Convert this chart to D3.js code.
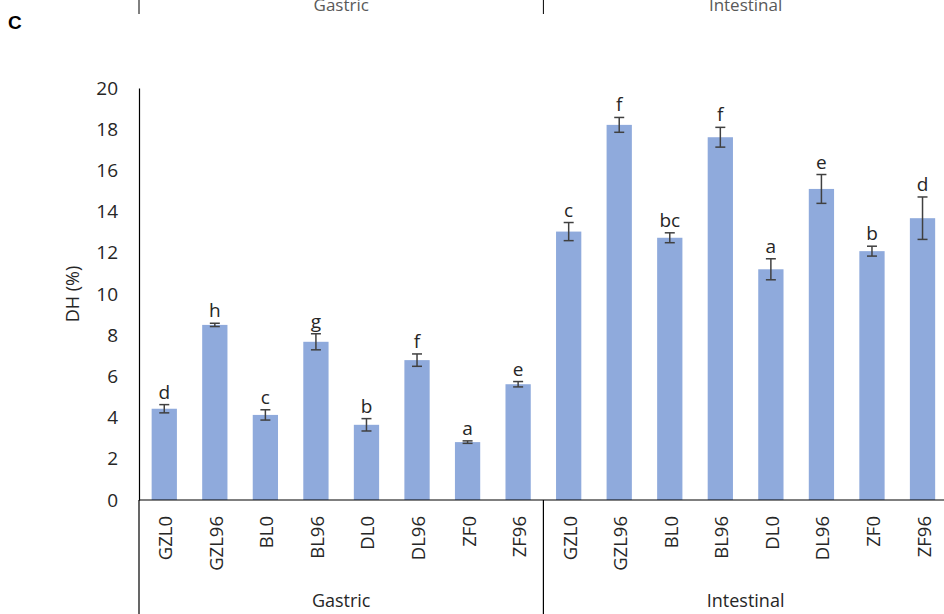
<!DOCTYPE html>
<html lang="en">
<head>
<meta charset="UTF-8">
<title>DH (%)</title>
<script src="https://d3js.org/d3.v7.min.js"></script>
<style>
  body { margin: 0; background: #fff; }
  svg { display: block; }
  text { font-family: "Open Sans", "Liberation Sans", sans-serif; fill: #262626; }
</style>
</head>
<body>
<div id="grafico"></div>
<script>
// data
const groups = ["Gastric", "Intestinal"];
const samples = ["GZL0", "GZL96", "BL0", "BL96", "DL0", "DL96", "ZF0", "ZF96"];
const gastricMean = [4.43, 8.5, 4.13, 7.68, 3.65, 6.79, 2.81, 5.62];
const gastricSd = [0.2, 0.08, 0.25, 0.39, 0.3, 0.3, 0.06, 0.13];
const gastricLetters = ["d", "h", "c", "g", "b", "f", "a", "e"];
const intestinalMean = [13.03, 18.21, 12.73, 17.61, 11.2, 15.1, 12.08, 13.68];
const intestinalSd = [0.44, 0.36, 0.24, 0.48, 0.51, 0.7, 0.24, 1.03];
const intestinalLetters = ["c", "f", "bc", "f", "a", "e", "b", "d"];
const yTicks = [0, 2, 4, 6, 8, 10, 12, 14, 16, 18, 20];

const rows = [];
samples.forEach((s, i) => rows.push({ group: "Gastric", name: s, mean: gastricMean[i], sd: gastricSd[i], letter: gastricLetters[i] }));
samples.forEach((s, i) => rows.push({ group: "Intestinal", name: s, mean: intestinalMean[i], sd: intestinalSd[i], letter: intestinalLetters[i] }));
rows.forEach(d => d.key = d.group + "-" + d.name);

const W = 944, H = 614;
const x0 = 139, step = 50.55;
const svg = d3.select("#grafico").append("svg").attr("width", W).attr("height", H);

const x = d3.scaleBand()
  .domain(rows.map(d => d.key))
  .range([x0, x0 + step * rows.length])
  .paddingInner(0.5)
  .paddingOuter(0.25);

const y = d3.scaleLinear().domain([0, 20]).range([500, 88]);

// panel letter and the bottom of the panel above (cut off, as in the figure)
svg.append("text").attr("x", 8).attr("y", 29)
  .style("font-family", "Liberation Sans, Arial, sans-serif")
  .style("font-weight", "bold").style("font-size", "19px").style("fill", "#000")
  .text("C");

groups.forEach((g, i) => {
  const xs = x0 + i * step * samples.length;
  svg.append("line").attr("x1", xs).attr("x2", xs).attr("y1", 0).attr("y2", 14)
    .attr("stroke", "#000").attr("stroke-width", 1);
  svg.append("text").attr("x", xs + step * samples.length / 2).attr("y", 11)
    .attr("text-anchor", "middle").style("font-size", "17px").style("fill", "#595959")
    .text(g);
});

// y axis
const yAxis = svg.append("g").attr("transform", `translate(${x0},0)`)
  .call(d3.axisLeft(y).tickValues(yTicks).tickSize(0).tickPadding(21));
yAxis.select(".domain").attr("stroke", "#000").attr("stroke-width", 1.2);
yAxis.selectAll("text").style("font-size", "19px").style("font-family", "Open Sans, sans-serif").attr("fill", "#262626");

svg.append("text")
  .attr("transform", `translate(79,${y(10)}) rotate(-90)`)
  .attr("text-anchor", "middle")
  .style("font-size", "18px")
  .text("DH (%)");

// bars
svg.selectAll("rect.bar").data(rows).enter().append("rect")
  .attr("class", "bar")
  .attr("x", d => x(d.key))
  .attr("y", d => y(d.mean))
  .attr("width", x.bandwidth())
  .attr("height", d => y(0) - y(d.mean))
  .attr("fill", "#8FAADC");

// error bars
const eb = svg.selectAll("g.err").data(rows).enter().append("g").attr("class", "err")
  .attr("stroke", "#404040").attr("stroke-width", 1.5);
const cx = d => x(d.key) + x.bandwidth() / 2;
eb.append("line").attr("x1", cx).attr("x2", cx)
  .attr("y1", d => y(d.mean + d.sd)).attr("y2", d => y(d.mean - d.sd));
eb.append("line").attr("x1", d => cx(d) - 5).attr("x2", d => cx(d) + 5)
  .attr("y1", d => y(d.mean + d.sd)).attr("y2", d => y(d.mean + d.sd));
eb.append("line").attr("x1", d => cx(d) - 5).attr("x2", d => cx(d) + 5)
  .attr("y1", d => y(d.mean - d.sd)).attr("y2", d => y(d.mean - d.sd));

// significance letters
svg.selectAll("text.letter").data(rows).enter().append("text")
  .attr("class", "letter")
  .attr("x", cx)
  .attr("y", d => y(d.mean + d.sd) - 6)
  .attr("text-anchor", "middle")
  .style("font-size", "19px")
  .text(d => d.letter);

// x axis line
svg.append("line").attr("x1", x0).attr("x2", W).attr("y1", y(0)).attr("y2", y(0))
  .attr("stroke", "#000").attr("stroke-width", 1.2);

// category labels
svg.selectAll("text.cat").data(rows).enter().append("text")
  .attr("class", "cat")
  .attr("transform", d => `translate(${cx(d) + 8},516) rotate(-90)`)
  .attr("text-anchor", "end")
  .style("font-size", "18.5px")
  .text(d => d.name);

// group separators and group labels
groups.forEach((g, i) => {
  const xs = x0 + i * step * samples.length;
  svg.append("line").attr("x1", xs).attr("x2", xs).attr("y1", y(0)).attr("y2", H)
    .attr("stroke", "#000").attr("stroke-width", 1.2);
  svg.append("text").attr("x", xs + step * samples.length / 2).attr("y", 607)
    .attr("text-anchor", "middle").style("font-size", "18px")
    .text(g);
});
</script>
</body>
</html>
